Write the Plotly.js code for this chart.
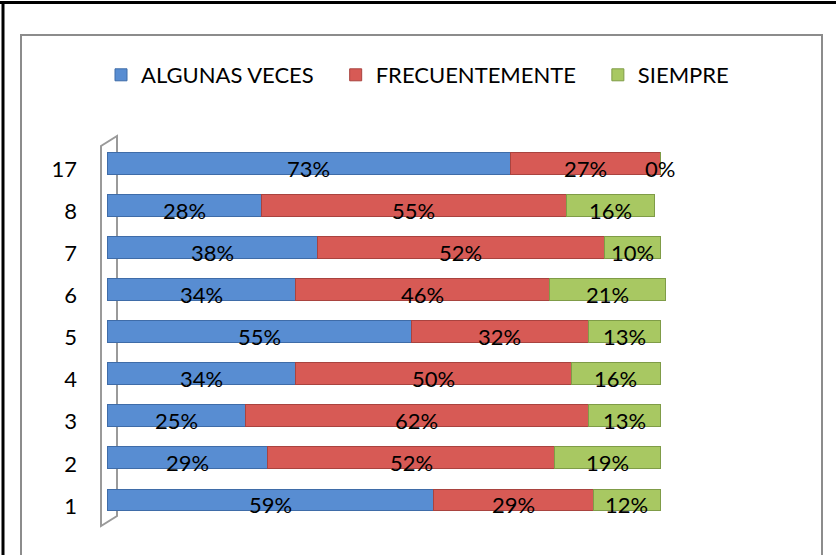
<!DOCTYPE html>
<html>
<head>
<meta charset="utf-8">
<script src="https://cdn.plot.ly/plotly-3.0.1.min.js"></script>
<style>html,body{margin:0;padding:0;background:#fff;}#chart{width:836px;height:555px;}</style>
</head>
<body>
<div id="chart"></div>
<script>
const categories = ['1', '2', '3', '4', '5', '6', '7', '8', '17'];
const algunasVeces = [0.59, 0.29, 0.25, 0.34, 0.55, 0.34, 0.38, 0.28, 0.73];
const frecuentemente = [0.29, 0.52, 0.62, 0.50, 0.32, 0.46, 0.52, 0.55, 0.27];
const siempre = [0.12, 0.19, 0.13, 0.16, 0.13, 0.21, 0.10, 0.16, 0.00];
const seriesNames = ['ALGUNAS VECES', 'FRECUENTEMENTE', 'SIEMPRE'];

const FONT = 'Lato, "Open Sans", "Liberation Sans", sans-serif';
const fill = ['#588dd2', '#d75a55', '#a8c862'];
const edge = ['#3f6ca8', '#a9433f', '#7f9c47'];

const pct = v => Math.round(v * 100) + '%';
const allSeries = [algunasVeces, frecuentemente, siempre];

const data = allSeries.map((vals, i) => ({
  type: 'bar', orientation: 'h', name: seriesNames[i] + '\u00a0\u00a0\u00a0',
  y: categories, x: vals,
  marker: {color: fill[i], line: {color: edge[i], width: 1}},
  hoverinfo: 'skip'
}));

// value labels, placed at the centre of each stacked segment (y = category index)
const annotations = [];
categories.forEach((c, k) => {
  let start = 0;
  allSeries.forEach(vals => {
    const v = vals[k];
    annotations.push({
      x: start + v / 2, y: k, xref: 'x', yref: 'y', text: pct(v),
      showarrow: false, yshift: -5, xanchor: 'center', yanchor: 'middle',
      font: {family: FONT, size: 22, color: '#000'}
    });
    start += v;
  });
});

const L = 107, T = 142, W = 719, H = 379;
const px = x => (x - L) / W;
const py = y => 1 - (y - T) / H;

const layout = {
  width: 836, height: 555,
  margin: {l: L, r: 836 - L - W, t: T, b: 555 - T - H},
  barmode: 'stack', bargap: 0.48,
  paper_bgcolor: '#fff', plot_bgcolor: 'rgba(0,0,0,0)',
  font: {family: FONT, size: 22, color: '#000'},
  showlegend: true,
  legend: {orientation: 'h', x: px(101), y: py(54), xanchor: 'left', yanchor: 'top',
           font: {family: FONT, size: 22, color: '#000'}, traceorder: 'normal',
           itemwidth: 30, bgcolor: 'rgba(0,0,0,0)'},
  xaxis: {range: [0, 1.3], showgrid: false, zeroline: false, showticklabels: false, showline: false, fixedrange: true},
  yaxis: {type: 'category', categoryorder: 'array', categoryarray: categories,
          range: [-0.5, categories.length - 0.5],
          showgrid: false, zeroline: false, showline: false,
          ticks: '', ticklabelstandoff: 29, ticklabelshift: 6,
          tickfont: {family: FONT, size: 22, color: '#000'}},
  annotations: annotations,
  shapes: [
    // outer black frame
    {type: 'line', xref: 'paper', yref: 'paper', x0: px(0), x1: px(836), y0: py(2.5), y1: py(2.5), line: {color: '#000', width: 3}},
    {type: 'line', xref: 'paper', yref: 'paper', x0: px(3), x1: px(3), y0: py(1), y1: py(556), line: {color: '#000', width: 3}},
    // inner grey chart-area box
    {type: 'rect', xref: 'paper', yref: 'paper', x0: px(21), x1: px(822), y0: py(35), y1: py(600), line: {color: '#8c8c8c', width: 2}, layer: 'below'},
    // 3D wall of the category axis
    {type: 'path', xref: 'paper', yref: 'paper', layer: 'below',
     path: 'M ' + px(101) + ',' + py(526) + ' L ' + px(101) + ',' + py(146) + ' L ' + px(117) + ',' + py(136) +
           ' L ' + px(117) + ',' + py(516) + ' Z',
     line: {color: '#9a9a9a', width: 2}, fillcolor: 'rgba(0,0,0,0)'}
  ]
};

Plotly.newPlot('chart', data, layout, {displayModeBar: false, staticPlot: true});
</script>
</body>
</html>
